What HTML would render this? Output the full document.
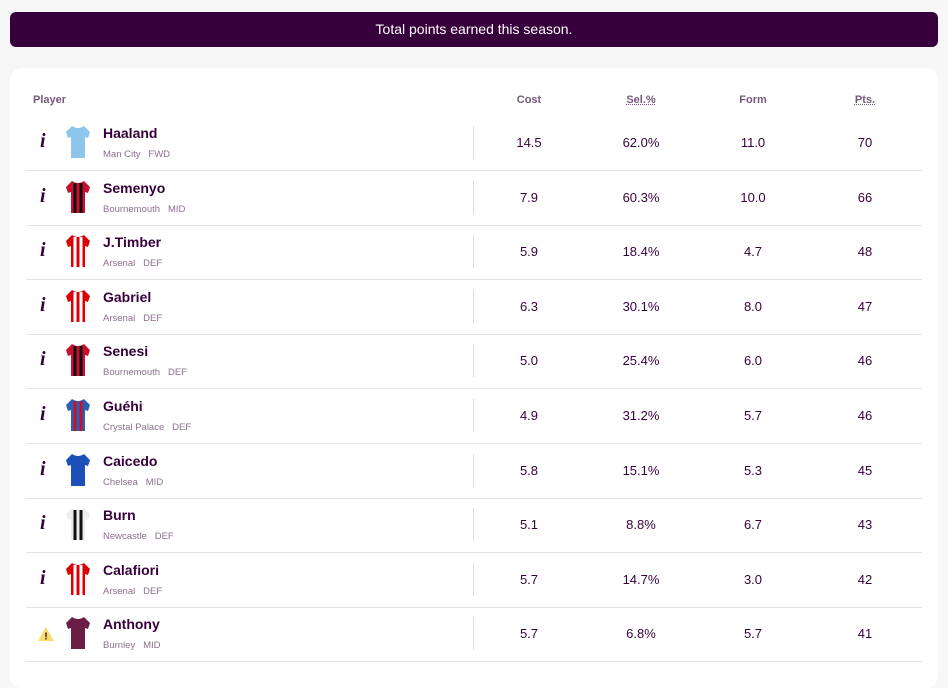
<!DOCTYPE html>
<html><head><meta charset="utf-8">
<style>
body{margin:0;width:948px;height:670px;background:#f7f7f7;font-family:"Liberation Sans",sans-serif;overflow:hidden;position:relative;color:#37003c}
#banner{position:absolute;left:10px;top:12px;width:928px;height:35px;background:#37003c;border-radius:6px;color:#fff;font-size:14px;line-height:35px;text-align:center}
#card{position:absolute;left:10px;top:68px;width:928px;height:620px;background:#fff;border-radius:12px}
.h{position:absolute;top:94px;font-size:11px;color:#76597a;font-weight:bold}
.row{position:absolute;left:26px;width:896px;height:54px;border-bottom:1px solid #e6e2e6}
.name{position:absolute;left:77px;top:9px;font-size:14px;font-weight:bold;color:#37003c}
.sub{position:absolute;left:77px;top:33px;font-size:9.5px;color:#8a708c}
.div{position:absolute;left:447px;top:10px;width:1px;height:33px;background:#ddd}
.c{position:absolute;width:80px;text-align:center;font-size:13px;color:#37003c;top:19px}
.info{position:absolute;left:14px;top:14px;font-family:"Liberation Serif",serif;font-style:italic;font-weight:bold;font-size:20px;color:#37003c}
.shirt{position:absolute;left:38px;top:8px}
</style></head><body>
<div id="banner">Total points earned this season.</div>
<div id="card"></div>
<div class="h" style="left:33px">Player</div>
<div class="h" style="left:489px;width:80px;text-align:center">Cost</div>
<div class="h" style="left:601px;width:80px;text-align:center;text-decoration:underline dotted">Sel.%</div>
<div class="h" style="left:713px;width:80px;text-align:center">Form</div>
<div class="h" style="left:825px;width:80px;text-align:center;text-decoration:underline dotted">Pts.</div>
<div id="rows"></div>
<script>
const names=["Haaland","Semenyo","J.Timber","Gabriel","Senesi","Guéhi","Caicedo","Burn","Calafiori","Anthony"];
const teams=["Man City","Bournemouth","Arsenal","Arsenal","Bournemouth","Crystal Palace","Chelsea","Newcastle","Arsenal","Burnley"];
const positions=["FWD","MID","DEF","DEF","DEF","DEF","MID","DEF","DEF","MID"];
const costs=["14.5","7.9","5.9","6.3","5.0","4.9","5.8","5.1","5.7","5.7"];
const sels=["62.0%","60.3%","18.4%","30.1%","25.4%","31.2%","15.1%","8.8%","14.7%","6.8%"];
const forms=["11.0","10.0","4.7","8.0","6.0","5.7","5.3","6.7","3.0","5.7"];
const pts=["70","66","48","47","46","46","45","43","42","41"];
const shirtColors=["#8ec5ea","#c8102e","#db0007","#db0007","#c8102e","#2b5fb0","#1d4fb8","#eee","#db0007","#6c1d45"];
const stripe=["#8ec5ea","#111","#fff","#fff","#111","#c8102e","#1d4fb8","#111","#fff","#6c1d45"];
const root=document.getElementById('rows');
names.forEach((n,i)=>{
  const r=document.createElement('div');
  r.className='row';
  r.style.top=(116+i*54.6)+'px';
  
  
  const icon=i===9?'<svg class="info" style="left:12px;top:20px" width="16" height="14"><polygon points="8,0 16,14 0,14" fill="#f5df6a"/><text x="8" y="12.5" font-size="10" font-weight="bold" text-anchor="middle" fill="#37003c" font-family="Liberation Sans" font-style="normal">!</text></svg>':'<div class="info">i</div>';
  r.innerHTML=icon+
  '<svg class="shirt" width="28" height="36" viewBox="0 0 28 36"><path d="M8 2 L2 8 L4 14 L7 13 L7 34 L21 34 L21 13 L24 14 L26 8 L20 2 Q14 6 8 2Z" fill="'+shirtColors[i]+'"/><path d="M11 4 L11 34 M17 4 L17 34" stroke="'+stripe[i]+'" stroke-width="3"/></svg>'+
  '<div class="name">'+n+'</div><div class="sub">'+teams[i]+'&nbsp;&nbsp; '+positions[i]+'</div><div class="div"></div>'+
  '<div class="c" style="left:463px">'+costs[i]+'</div><div class="c" style="left:575px">'+sels[i]+'</div><div class="c" style="left:687px">'+forms[i]+'</div><div class="c" style="left:799px">'+pts[i]+'</div>';
  root.appendChild(r);
});
</script>
</body></html>
